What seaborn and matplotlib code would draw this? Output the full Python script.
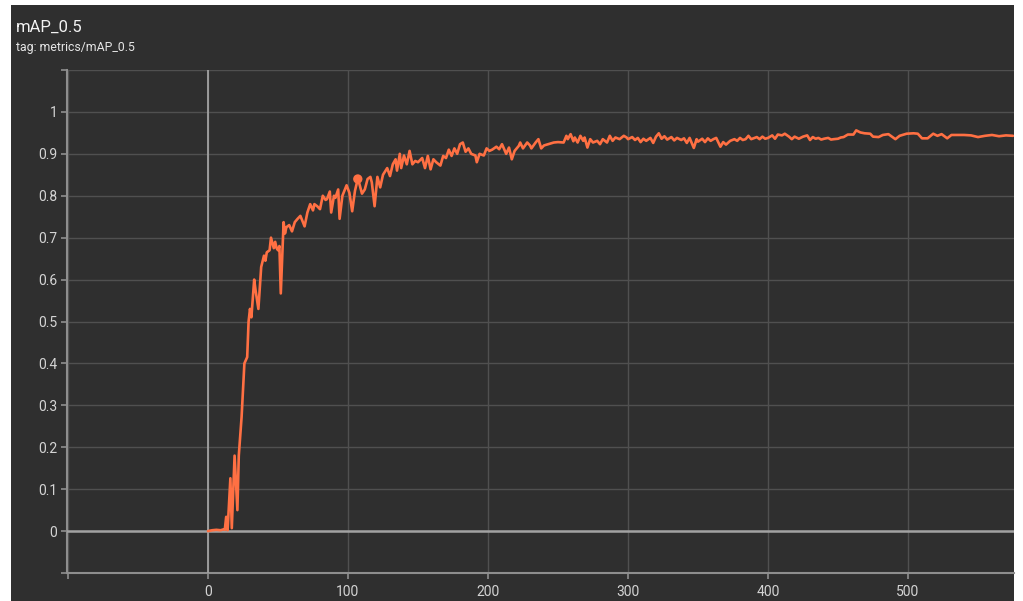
import matplotlib
matplotlib.use("Agg")
import matplotlib.pyplot as plt
from matplotlib.patches import Rectangle
import pandas as pd
import seaborn as sns

# Training curve: mAP@0.5 per epoch
epochs = [
    0, 3, 6, 9, 11, 12, 13, 14, 16, 17, 19, 21, 22, 24, 26, 28, 29, 30, 31, 33,
    34, 36, 38, 40, 41, 42, 44, 45, 47, 48, 49, 50, 51, 52, 54, 55, 56, 58, 60, 62,
    64, 66, 68, 69, 71, 73, 75, 76, 78, 80, 82, 84, 85, 87, 88, 90, 91, 93, 94, 96,
    99, 101, 103, 105, 107, 108, 110, 112, 114, 116, 117, 119, 121, 123, 125, 128, 130, 132, 134, 135,
    137, 138, 140, 142, 144, 146, 148, 150, 153, 155, 157, 159, 161, 163, 166, 168, 170, 172, 174, 176,
    178, 180, 182, 184, 186, 188, 191, 192, 194, 197, 199, 201, 203, 206, 208, 210, 213, 215, 217, 219,
    222, 223, 225, 228, 230, 231, 234, 236, 238, 240, 243, 247, 250, 254, 256, 257, 259, 261, 262, 264,
    266, 268, 269, 271, 273, 275, 278, 280, 282, 285, 287, 289, 291, 294, 297, 299, 300, 303, 305, 307,
    309, 311, 313, 316, 318, 320, 322, 324, 326, 328, 331, 333, 335, 338, 340, 342, 344, 347, 349, 350,
    353, 355, 357, 359, 361, 363, 366, 368, 370, 373, 376, 378, 380, 382, 384, 386, 388, 392, 394, 396,
    398, 400, 403, 405, 407, 410, 412, 415, 417, 419, 422, 425, 428, 430, 432, 434, 436, 438, 440, 443,
    445, 447, 450, 452, 454, 457, 461, 463, 466, 469, 473, 475, 479, 482, 486, 491, 494, 499, 504, 507,
    510, 514, 518, 521, 524, 528, 531, 535, 540, 545, 550, 555, 560, 565, 570, 575,
]
map50 = [
    0.000, 0.002, 0.003, 0.002, 0.004, 0.003, 0.034, 0.002, 0.126, 0.007, 0.180, 0.050, 0.180, 0.272, 0.400, 0.415, 0.500, 0.530, 0.510, 0.600,
    0.574, 0.530, 0.630, 0.657, 0.645, 0.665, 0.670, 0.700, 0.675, 0.690, 0.675, 0.670, 0.680, 0.567, 0.737, 0.710, 0.725, 0.730, 0.715, 0.737,
    0.745, 0.752, 0.735, 0.727, 0.760, 0.780, 0.765, 0.780, 0.775, 0.768, 0.800, 0.790, 0.792, 0.810, 0.760, 0.800, 0.795, 0.815, 0.745, 0.800,
    0.825, 0.807, 0.763, 0.812, 0.840, 0.830, 0.805, 0.815, 0.840, 0.845, 0.832, 0.775, 0.845, 0.820, 0.850, 0.866, 0.847, 0.875, 0.887, 0.860,
    0.900, 0.866, 0.896, 0.875, 0.907, 0.875, 0.883, 0.880, 0.890, 0.866, 0.895, 0.863, 0.887, 0.880, 0.872, 0.895, 0.890, 0.910, 0.895, 0.913,
    0.900, 0.923, 0.927, 0.905, 0.913, 0.900, 0.896, 0.880, 0.900, 0.896, 0.913, 0.907, 0.910, 0.917, 0.911, 0.923, 0.900, 0.915, 0.887, 0.907,
    0.919, 0.927, 0.913, 0.927, 0.920, 0.913, 0.927, 0.935, 0.913, 0.920, 0.923, 0.927, 0.928, 0.927, 0.943, 0.935, 0.947, 0.930, 0.939, 0.927,
    0.943, 0.931, 0.939, 0.915, 0.935, 0.927, 0.931, 0.923, 0.935, 0.927, 0.943, 0.931, 0.939, 0.935, 0.943, 0.939, 0.935, 0.940, 0.933, 0.938,
    0.928, 0.936, 0.931, 0.938, 0.926, 0.941, 0.949, 0.936, 0.942, 0.934, 0.940, 0.932, 0.938, 0.933, 0.937, 0.926, 0.938, 0.914, 0.935, 0.929,
    0.936, 0.928, 0.937, 0.931, 0.935, 0.938, 0.917, 0.928, 0.922, 0.931, 0.935, 0.931, 0.938, 0.933, 0.935, 0.943, 0.935, 0.940, 0.935, 0.941,
    0.936, 0.938, 0.944, 0.936, 0.946, 0.944, 0.948, 0.941, 0.935, 0.941, 0.936, 0.941, 0.944, 0.933, 0.940, 0.936, 0.938, 0.934, 0.936, 0.938,
    0.934, 0.935, 0.936, 0.939, 0.940, 0.946, 0.946, 0.956, 0.951, 0.949, 0.948, 0.941, 0.940, 0.945, 0.947, 0.935, 0.943, 0.948, 0.949, 0.948,
    0.937, 0.937, 0.948, 0.943, 0.947, 0.937, 0.945, 0.945, 0.945, 0.944, 0.940, 0.943, 0.945, 0.942, 0.944, 0.943,
]

# Highlighted sample on the curve
point_epoch = [107]
point_map = [0.840]

x_ticks = [-100, 0, 100, 200, 300, 400, 500]
x_labels = ["", "0", "100", "200", "300", "400", "500"]
y_ticks = [-0.1, 0.0, 0.1, 0.2, 0.3, 0.4, 0.5, 0.6, 0.7, 0.8, 0.9, 1.0, 1.1]
y_labels = ["", "0", "0.1", "0.2", "0.3", "0.4", "0.5", "0.6", "0.7", "0.8", "0.9", "1", ""]

title = "mAP_0.5"
subtitle = "tag: metrics/mAP_0.5"

BG = "#2f2f2f"
LINE = "#ff7043"
GRID = "#505050"
AXIS = "#a2a2a2"
SPINE = "#8e8e8e"
TEXT = "#d4d4d4"

sns.set_theme(style="dark")
plt.rcParams["font.family"] = ["Roboto", "DejaVu Sans"]

W, H = 1023, 601
fig = plt.figure(figsize=(W / 100, H / 100), dpi=100, facecolor="white")
# dark card behind the chart, drawn beneath the axes
fig.patches.append(Rectangle((11 / W, 0), 1003 / W, 596 / H, transform=fig.transFigure,
                             facecolor=BG, edgecolor="none", zorder=-10))

ax = fig.add_axes([67 / W, (H - 573) / H, (1014 - 67) / W, (573 - 70) / H])
ax.set_facecolor(BG)
ax.set_zorder(1)

df = pd.DataFrame({"epoch": epochs, "mAP_0.5": map50})
sns.lineplot(data=df, x="epoch", y="mAP_0.5", color=LINE, linewidth=1.9, ax=ax, zorder=5)
sns.scatterplot(x=point_epoch, y=point_map, color=LINE, s=45, edgecolor="none", ax=ax, zorder=6)

ax.set_xlim(-100.7, 575.7)
ax.set_ylim(-0.1, 1.1)
ax.set_xticks(x_ticks)
ax.set_xticklabels(x_labels)
ax.set_yticks(y_ticks)
ax.set_yticklabels(y_labels)
ax.set_xlabel("")
ax.set_ylabel("")

ax.grid(True, color=GRID, linewidth=1.0)
ax.axhline(0, color=AXIS, linewidth=1.8, zorder=3)
ax.axvline(0, color=AXIS, linewidth=1.3, zorder=3)

for side in ("top", "right"):
    ax.spines[side].set_visible(False)
for side in ("left", "bottom"):
    ax.spines[side].set_visible(True)
    ax.spines[side].set_color(SPINE)
    ax.spines[side].set_linewidth(1.5)

ax.tick_params(axis="both", which="both", direction="out", length=4, width=1.2,
               color=SPINE, labelcolor=TEXT, labelsize=10)
ax.tick_params(axis="y", pad=3, left=True)
ax.tick_params(axis="x", pad=5, bottom=True)

fig.text(16 / W, 1 - 27 / H, title, color="#f2f2f2", fontsize=12, va="center", ha="left")
fig.text(16 / W, 1 - 47 / H, subtitle, color="#e6e6e6", fontsize=8.8, va="center", ha="left")

fig.savefig("out.png", dpi=100, facecolor="white")
